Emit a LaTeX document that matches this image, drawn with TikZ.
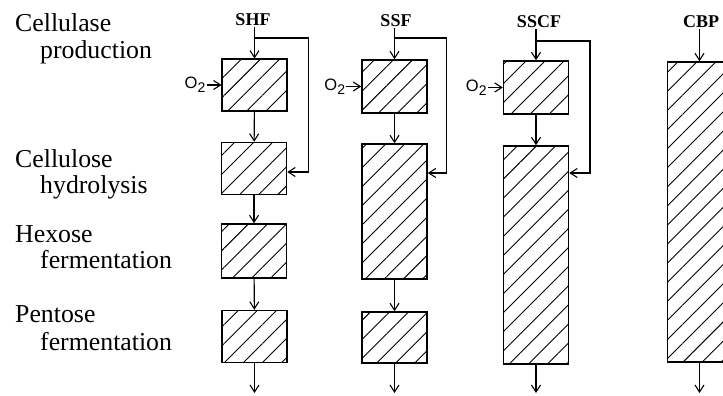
\documentclass[tikz,border=0pt]{standalone}
\usepackage{fontspec}
\setmainfont{Liberation Serif}
\setsansfont{Liberation Sans}
\usetikzlibrary{arrows.meta,positioning,patterns.meta}
\tikzset{
  stagebox/.style={
    rectangle, draw=black, line width=1.5pt, inner sep=0pt,
    minimum width=65pt, minimum height=#1,
    pattern={Lines[angle=45,distance=13.5pt,line width=0.9pt]}
  },
  stagebox/.default=52pt,
  flow/.style={
    -{Straight Barb[length=7pt,width=9pt]}, line width=1.1pt
  },
  steplabel/.style={
    font=\fontsize{25.8}{27}\selectfont, anchor=base west, inner sep=0pt
  },
  proclabel/.style={
    font=\fontsize{18}{20}\selectfont\bfseries, anchor=base, inner sep=1pt
  },
  gaslabel/.style={
    font=\fontsize{16.5}{18}\selectfont\sffamily, inner sep=1pt
  },
}
\newcommand{\oxy}{O\raisebox{-4pt}{\fontsize{14}{15}\selectfont 2}}

\begin{document}
\begin{tikzpicture}[x=1pt,y=-1pt]
  \clip (0,0) rectangle (723,396);

  % Process steps
  \node[steplabel] (cellulase) at (15,32) {Cellulase};
  \node[steplabel] (production) at (40,59) {production};
  \node[steplabel] (cellulose) at (15,167) {Cellulose};
  \node[steplabel] (hydrolysis) at (40,193) {hydrolysis};
  \node[steplabel] (hexose) at (15,242) {Hexose};
  \node[steplabel] (hexferm) at (40,268) {fermentation};
  \node[steplabel] (pentose) at (15,322) {Pentose};
  \node[steplabel] (pentferm) at (40,350) {fermentation};

  % SHF
  \node[proclabel] (shflbl) at (253,26) {SHF};
  \node[stagebox] (shf1) at (254.5,85) {};
  \node[stagebox] (shf2) at (254,168.5) {};
  \node[stagebox=54pt] (shf3) at (254,251) {};
  \node[stagebox] (shf4) at (254.5,336.5) {};
  \node[gaslabel, left=15pt of shf1] (shfo2) {\oxy};
  \coordinate (shfsplit) at (shf1.north |- 0,38);
  \coordinate (shfout) at (shf4.south |- 0,393);
  \draw[flow] (shf1.north |- shflbl.south) -- (shf1);
  \draw[flow] (shfsplit) -- ++(54,0) |- (shf2.east |- 0,172);
  \draw[flow] (shfo2) -- (shf1);
  \draw[flow] (shf1) -- (shf2);
  \draw[flow] (shf2) -- (shf3);
  \draw[flow] (shf3) -- (shf4);
  \draw[flow] (shf4) -- (shfout);

  % SSF
  \node[proclabel] (ssflbl) at (396,27) {SSF};
  \node[stagebox=53pt] (ssf1) at (394.5,86.5) {};
  \node[stagebox=135pt] (ssf2) at (394.5,211.5) {};
  \node[stagebox=51pt] (ssf3) at (394.5,337.5) {};
  \node[gaslabel, left=15pt of ssf1] (ssfo2) {\oxy};
  \coordinate (ssfsplit) at (ssf1.north |- 0,38);
  \coordinate (ssfout) at (ssf3.south |- 0,393);
  \draw[flow] (ssf1.north |- ssflbl.south) -- (ssf1);
  \draw[flow] (ssfsplit) -- ++(52,0) |- (ssf2.east |- 0,173);
  \draw[flow] (ssfo2) -- (ssf1);
  \draw[flow] (ssf1) -- (ssf2);
  \draw[flow] (ssf2) -- (ssf3);
  \draw[flow] (ssf3) -- (ssfout);

  % SSCF
  \node[proclabel] (sscflbl) at (539,28) {SSCF};
  \node[stagebox=53pt] (sscf1) at (536,87.5) {};
  \node[stagebox=218pt] (sscf2) at (536,255) {};
  \node[gaslabel, left=15pt of sscf1] (sscfo2) {\oxy};
  \coordinate (sscfsplit) at (sscf1.north |- 0,41);
  \coordinate (sscfout) at (sscf2.south |- 0,393);
  \draw[flow] (sscf1.north |- sscflbl.south) -- (sscf1);
  \draw[flow] (sscfsplit) -- ++(54,0) |- (sscf2.east |- 0,173);
  \draw[flow] (sscfo2) -- (sscf1);
  \draw[flow] (sscf1) -- (sscf2);
  \draw[flow] (sscf2) -- (sscfout);

  % CBP
  \node[proclabel] (cbplbl) at (701,28) {CBP};
  \node[stagebox=300pt, minimum width=64pt] (cbp) at (699.5,212) {};
  \coordinate (cbpout) at (cbp.south |- 0,393);
  \draw[flow] (cbp.north |- cbplbl.south) -- (cbp);
  \draw[flow] (cbp) -- (cbpout);
\end{tikzpicture}
\end{document}
